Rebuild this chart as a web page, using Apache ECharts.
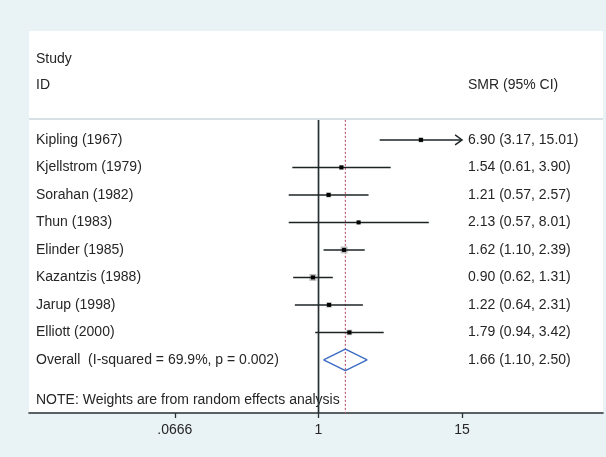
<!DOCTYPE html>
<html>
<head>
<meta charset="utf-8">
<script src="https://cdn.jsdelivr.net/npm/echarts@6/dist/echarts.min.js"></script>
<style>
html,body{margin:0;padding:0;background:#e9f2f5;}
#c{width:606px;height:457px;}
</style>
</head>
<body>
<div id="c"></div>
<script>
// ---- data ----
const studies = ['Kipling (1967)', 'Kjellstrom (1979)', 'Sorahan (1982)', 'Thun (1983)',
  'Elinder (1985)', 'Kazantzis (1988)', 'Jarup (1998)', 'Elliott (2000)'];
const smr = [6.90, 1.54, 1.21, 2.13, 1.62, 0.90, 1.22, 1.79];
const ciLow = [3.17, 0.61, 0.57, 0.57, 1.10, 0.62, 0.64, 0.94];
const ciHigh = [15.01, 3.90, 2.57, 8.01, 2.39, 1.31, 2.31, 3.42];
const weights = [9.5, 8.5, 10.5, 5.5, 18.5, 19.0, 11.5, 12.0];
const overallLabel = 'Overall  (I-squared = 69.9%, p = 0.002)';
const overallEst = 1.66, overallLow = 1.10, overallHigh = 2.50;
const nullValue = 1;
const plotMax = 15;
const tickValues = [0.0666, 1, 15];
const tickLabels = ['.0666', '1', '15'];
const headerLeft = ['Study', 'ID'];
const headerRight = 'SMR (95% CI)';
const note = 'NOTE: Weights are from random effects analysis';

// ---- chart ----
const FONT = '14px "Liberation Sans", Arial, sans-serif';
const TXT = '#262626';
const fmt = v => v.toFixed(2);
const nRows = studies.length;
const chart = echarts.init(document.getElementById('c'));

const textRows = [];
textRows.push({row: -2.95, left: headerLeft[0], right: ''});
textRows.push({row: -2, left: headerLeft[1], right: headerRight});
studies.forEach((s, i) => textRows.push({row: i, left: s,
  right: fmt(smr[i]) + ' (' + fmt(ciLow[i]) + ', ' + fmt(ciHigh[i]) + ')'}));
textRows.push({row: nRows, left: overallLabel,
  right: fmt(overallEst) + ' (' + fmt(overallLow) + ', ' + fmt(overallHigh) + ')'});
textRows.push({row: nRows + 1.45, left: note, right: ''});

const lineTop = -0.73, lineBottom = 9.93;

chart.setOption({
  backgroundColor: '#e9f2f5',
  animation: false,
  grid: {left: 29, right: 3, top: 31, bottom: 44, show: true, backgroundColor: '#ffffff', borderWidth: 0},
  xAxis: {
    type: 'log', logBase: 10, min: 0.00425, max: 214, position: 'bottom',
    axisLine: {show: true, onZero: false, lineStyle: {color: '#263033', width: 1.6}},
    axisTick: {show: true, customValues: tickValues, length: 5, lineStyle: {color: '#263033', width: 1.3}},
    axisLabel: {show: true, customValues: tickValues, margin: 10, color: TXT,
      fontFamily: '"Liberation Sans", Arial, sans-serif', fontSize: 14,
      formatter: v => {
        let best = 0;
        tickValues.forEach((t, k) => { if (Math.abs(Math.log(t) - Math.log(v)) < Math.abs(Math.log(tickValues[best]) - Math.log(v))) best = k; });
        return tickLabels[best];
      }},
    splitLine: {show: false}, minorTick: {show: false}, minorSplitLine: {show: false}
  },
  yAxis: {type: 'value', inverse: true, min: -3.96, max: 9.93, show: false},
  series: [
    {
      type: 'custom', z: 1,
      data: textRows.map(r => [r.row]),
      encode: {y: 0},
      renderItem: (params, api) => {
        const r = textRows[params.dataIndex];
        const y = api.coord([1, api.value(0)])[1];
        return {type: 'group', children: [
          {type: 'text', style: {x: 36, y: y, text: r.left, fill: TXT, font: FONT, align: 'left', verticalAlign: 'middle'}},
          {type: 'text', style: {x: 468, y: y, text: r.right, fill: TXT, font: FONT, align: 'left', verticalAlign: 'middle'}}
        ]};
      },
      markLine: {silent: true, symbol: 'none', label: {show: false},
        lineStyle: {color: '#d8e2e6', width: 2, type: 'solid'},
        data: [{yAxis: -0.76}]}
    },
    {
      type: 'line', symbol: 'none', z: 3,
      data: [[nullValue, lineTop], [nullValue, lineBottom]],
      lineStyle: {color: '#263033', width: 1.7}
    },
    {
      type: 'line', symbol: 'none', z: 3,
      data: [[overallEst, lineTop], [overallEst, lineBottom]],
      lineStyle: {color: '#bd5d75', width: 1.2, type: [2, 2]}
    },
    {
      type: 'custom', z: 4,
      data: studies.map((s, i) => [ciLow[i], ciHigh[i], smr[i], i, weights[i]]),
      encode: {x: [0, 1, 2], y: 3},
      renderItem: (params, api) => {
        const lo = api.value(0), hi = api.value(1), est = api.value(2), row = api.value(3), w = api.value(4);
        const arrow = hi > plotMax;
        const p0 = api.coord([lo, row]);
        const p1 = api.coord([arrow ? plotMax : hi, row]);
        const pe = api.coord([est, row]);
        const side = 1.6 * Math.sqrt(w);
        const children = [
          {type: 'rect', shape: {x: pe[0] - side / 2, y: pe[1] - side / 2, width: side, height: side},
            style: {fill: '#bdbdbd'}},
          {type: 'line', shape: {x1: p0[0], y1: p0[1], x2: p1[0], y2: p1[1]},
            style: {stroke: '#1c2426', lineWidth: 1.5}},
          {type: 'rect', shape: {x: pe[0] - 2, y: pe[1] - 2, width: 4, height: 4},
            style: {fill: '#000000'}}
        ];
        if (arrow) {
          children.push({type: 'polyline', shape: {points: [[p1[0] - 7, p1[1] - 5], [p1[0], p1[1]], [p1[0] - 7, p1[1] + 5]]},
            style: {stroke: '#1c2426', lineWidth: 1.4, fill: null}});
        }
        return {type: 'group', children};
      }
    },
    {
      type: 'line', symbol: 'none', z: 4,
      data: [[overallLow, nRows], [overallEst, nRows - 0.39], [overallHigh, nRows], [overallEst, nRows + 0.39], [overallLow, nRows]],
      lineStyle: {color: '#3a6cc4', width: 1.4}
    }
  ]
});
</script>
</body>
</html>
